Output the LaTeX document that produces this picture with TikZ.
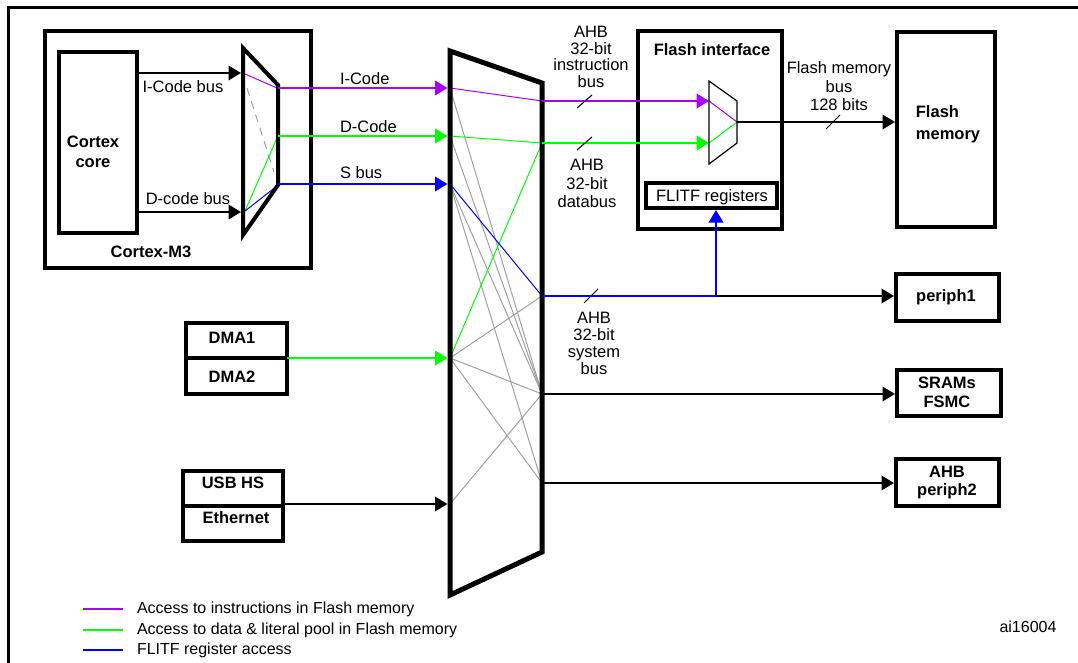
\documentclass[tikz,border=0pt]{standalone}
\usepackage{fontspec}
\setmainfont{Liberation Sans}
\usetikzlibrary{arrows.meta}
\definecolor{ipurple}{RGB}{170,0,255}
\definecolor{dgreen}{RGB}{0,255,0}
\definecolor{sblue}{RGB}{0,0,255}
\definecolor{xgray}{RGB}{160,160,160}
\begin{document}
\begin{tikzpicture}[x=1pt,y=-1pt,
  every node/.style={font=\fontsize{16.5}{17}\selectfont, inner sep=0pt, outer sep=0pt},
  box/.style={draw, line width=4pt},
  bold/.style={font=\fontsize{16.5}{20}\selectfont\bfseries, align=center},
  lbl/.style={align=center},
  tip/.style={-{Triangle[length=12.5pt,width=14.5pt]}},
  blk/.style={tip, line width=2pt, draw=black},
  ibus/.style={tip, line width=2.6pt, draw=ipurple, fill=ipurple},
  dbus/.style={tip, line width=2.6pt, draw=dgreen, fill=dgreen},
  sbus/.style={tip, line width=2.6pt, draw=sblue, fill=sblue},
  xline/.style={line width=1pt, draw=xgray},
  slashmark/.style={line width=1pt, draw=black},
  legline/.style={line width=2pt}
]
\useasboundingbox (0,0) rectangle (1078,663);
% outer frame (partial)
\draw[line width=3pt] (8,664) -- (8,8) -- (1080,8);

% Cortex-M3
\node[box, minimum width=266pt, minimum height=237pt] (cm3) at (178,149.5) {};
\node[bold] (cm3lbl) at (151,252) {Cortex-M3};
\node[box, minimum width=78pt, minimum height=181pt] (core) at (98,142.5) {};
\node[bold] (corelbl) at (93,152) {Cortex\\core};

% small bus matrix in Cortex-M3
\coordinate (m1) at (243,48);
\coordinate (m2) at (278,85);
\coordinate (m3) at (278,185);
\coordinate (m4) at (243,235);
\coordinate (mI) at (243,73);
\coordinate (mD) at (243,212);
\coordinate (oI) at (278,88);
\coordinate (oD) at (278,136);
\coordinate (oS) at (278,184);

\draw[blk, shorten >=2pt] (core.east |- mI) -- (mI);
\draw[blk, shorten >=2pt] (core.east |- mD) -- (mD);
\node[anchor=center] (icb) at (183,87) {I-Code bus};
\node[anchor=center] (dcb) at (188,199) {D-code bus};

\draw[line width=1pt, draw=ipurple] (245,74) -- (277,88);
\draw[line width=1pt, draw=xgray, dash pattern=on 8pt off 6pt] (247,88) -- (274,172);
\draw[line width=1pt, draw=dgreen] (245,211) -- (277,138);
\draw[line width=1pt, draw=sblue] (245,211) -- (277,186);
\draw[line width=4pt, line join=miter] (m1) -- (m2) -- (m3) -- (m4) -- cycle;

% crossbar ports
\coordinate (xI) at (450,88);
\coordinate (xD) at (450,136);
\coordinate (xS) at (450,184);
\coordinate (xDMA) at (450,358);
\coordinate (xUSB) at (450,504);
\coordinate (yI) at (542,101);
\coordinate (yD) at (542,143);
\coordinate (yP1) at (542,296);
\coordinate (ySR) at (542,394);
\coordinate (yAP) at (542,483);

\draw[ibus, shorten >=2.5pt] (oI) -- (xI);
\draw[dbus, shorten >=2.5pt] (oD) -- (xD);
\draw[sbus, shorten >=2.5pt] (oS) -- (xS);
\node[anchor=west] (lI) at (340,79) {I-Code};
\node[anchor=west] (lD) at (340,127) {D-Code};
\node[anchor=west] (lS) at (340,173) {S bus};

% crossbar internal lines
\draw[xline] (xI) -- (ySR);
\draw[xline] (xD) -- (ySR);
\draw[xline] (xS) -- (ySR);
\draw[xline] (xS) -- (yAP);
\draw[xline] (xDMA) -- (yP1);
\draw[xline] (xDMA) -- (ySR);
\draw[xline] (xDMA) -- (yAP);
\draw[xline] (xUSB) -- (ySR);
\draw[line width=1pt, draw=ipurple] (xI) -- (yI);
\draw[line width=1pt, draw=dgreen] (xD) -- (yD);
\draw[line width=1pt, draw=dgreen] (xDMA) -- (yD);
\draw[line width=1pt, draw=sblue] (xS) -- (yP1);

% crossbar outline
\draw[line width=5pt, line join=miter] (450,51) -- (542,83) -- (542,552) -- (450,595) -- cycle;

% DMA and USB masters
\node[box, minimum width=101pt, minimum height=35pt] (dma1) at (236.5,340.5) {};
\node[box, minimum width=101pt, minimum height=36pt] (dma2) at (236.5,376) {};
\node[font=\fontsize{16.5}{17}\selectfont\bfseries] at (232,338) {DMA1};
\node[font=\fontsize{16.5}{17}\selectfont\bfseries] at (232,377) {DMA2};
\draw[dbus, shorten >=2.5pt] (dma1.south east) -- (xDMA);

\node[box, minimum width=100pt, minimum height=35pt] (usb) at (233,488.5) {};
\node[box, minimum width=100pt, minimum height=35pt] (eth) at (233,523.5) {};
\node[font=\fontsize{16.5}{17}\selectfont\bfseries] at (233,483) {USB HS};
\node[font=\fontsize{16.5}{17}\selectfont\bfseries] at (236,518) {Ethernet};
\draw[blk, shorten >=2.5pt] (usb.east |- xUSB) -- (xUSB);

% Flash interface
\node[box, minimum width=144pt, minimum height=198pt] (fi) at (710,130) {};
\node[font=\fontsize{16.5}{17}\selectfont\bfseries] (filbl) at (712,50) {Flash interface};
\node[box, minimum width=131pt, minimum height=25pt] (flitf) at (711.5,195.5) {};
\node (flitflbl) at (712,197) {FLITF registers};
\coordinate (f1) at (709,81);
\coordinate (f2) at (737,101);
\coordinate (f3) at (737,143);
\coordinate (f4) at (709,164);
\coordinate (fI) at (709,101);
\coordinate (fD) at (709,143);
\coordinate (fO) at (737,122);
\draw[ibus] (yI) -- (fI);
\draw[dbus] (yD) -- (fD);
\draw[line width=1pt, draw=ipurple] (fI) -- (fO);
\draw[line width=1pt, draw=dgreen] (fD) -- (fO);
\draw[line width=1.2pt] (f1) -- (f2) -- (f3) -- (f4) -- cycle;

% Flash memory
\node[box, minimum width=98pt, minimum height=195pt] (fm) at (946,129.5) {};
\node[font=\fontsize{16.5}{22}\selectfont\bfseries, align=left] (fmlbl) at (948,124) {Flash\\memory};
\draw[blk, shorten >=2pt] (fO) -- (fm.west |- fO);
\node[lbl, font=\fontsize{16.5}{18.5}\selectfont] (fmb) at (839,86.5) {Flash memory\\bus\\128 bits};
\draw[slashmark] (826,129) -- (840,115);

% labels on AHB buses
\node[lbl, font=\fontsize{16.5}{16.7}\selectfont] (ahbI) at (591,57) {AHB\\32-bit\\instruction\\bus};
\draw[slashmark] (577,108) -- (592,95);
\node[lbl, font=\fontsize{16.5}{18.5}\selectfont] (ahbD) at (587,183.5) {AHB\\32-bit\\databus};
\draw[slashmark] (577,150) -- (592,137);
\node[lbl, font=\fontsize{16.5}{17}\selectfont] (ahbS) at (594,343.5) {AHB\\32-bit\\system\\bus};
\draw[slashmark] (584,303) -- (598,289);

% slaves
\node[box, minimum width=103pt, minimum height=47pt] (p1) at (947.5,297.5) {};
\node[font=\fontsize{16.5}{17}\selectfont\bfseries] at (946,297) {periph1};
\node[box, minimum width=104pt, minimum height=46pt] (sram) at (949,393) {};
\node[bold, font=\fontsize{16.5}{19}\selectfont\bfseries] at (947,392) {SRAMs\\FSMC};
\node[box, minimum width=103pt, minimum height=47pt] (ap2) at (947.5,482.5) {};
\node[bold, font=\fontsize{16.5}{18}\selectfont\bfseries] at (947,483) {AHB\\periph2};

\coordinate (tap) at (716,296);
\draw[line width=2.6pt, draw=sblue] (yP1) -- (tap);
\draw[sbus, line width=2pt, shorten >=2pt] (tap) -- (flitf.south -| tap);
\draw[blk, shorten >=2pt] (tap) -- (p1.west |- tap);
\draw[blk, shorten >=2pt] (ySR) -- (sram.west |- ySR);
\draw[blk, shorten >=2pt] (yAP) -- (ap2.west |- yAP);

% legend
\draw[legline, draw=ipurple] (83,609) -- (123,609);
\draw[legline, draw=dgreen] (83,630) -- (123,630);
\draw[legline, draw=sblue] (83,650) -- (123,650);
\node[anchor=west, font=\fontsize{16}{17}\selectfont] at (137,609) {Access to instructions in Flash memory};
\node[anchor=west, font=\fontsize{16}{17}\selectfont] at (137,630) {Access to data \& literal pool in Flash memory};
\node[anchor=west, font=\fontsize{16}{17}\selectfont] at (137,650) {FLITF register access};
\node[font=\fontsize{16}{17}\selectfont] at (1028,627) {ai16004};
\end{tikzpicture}
\end{document}
